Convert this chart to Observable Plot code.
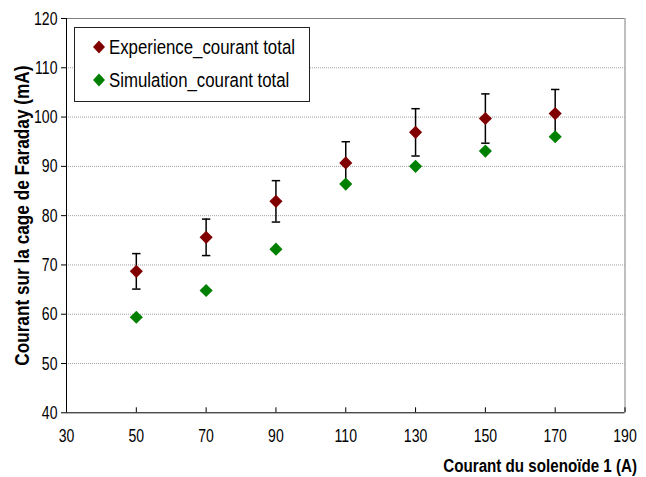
<!DOCTYPE html>
<html>
<head>
<meta charset="utf-8">
<script src="https://cdn.jsdelivr.net/npm/d3@7"></script>
<script src="https://cdn.jsdelivr.net/npm/@observablehq/plot@0.6"></script>
<style>
  html, body { margin: 0; padding: 0; background: #fff; }
  #wrap { position: relative; width: 646px; height: 477px; font-family: "Liberation Sans", Arial, sans-serif; }
  #legend { position: absolute; left: 74px; top: 27px; width: 234px; height: 73px; border: 1px solid #222; background: #fff; }
  .item { position: absolute; left: 17px; display: flex; align-items: center; font-size: 20.5px; color: #000; white-space: nowrap; }
  .item span { display: inline-block; transform: scaleX(0.82); transform-origin: left center; margin-left: 3px; }
</style>
</head>
<body>
<div id="wrap"></div>
<script>
const xTicks = [30, 50, 70, 90, 110, 130, 150, 170, 190];
const yTicks = [40, 50, 60, 70, 80, 90, 100, 110, 120];
const current = [50, 70, 90, 110, 130, 150, 170];
const expValues = [68.7, 75.6, 82.9, 90.7, 96.9, 99.7, 100.7];
const expErrors = [3.6, 3.7, 4.2, 4.3, 4.8, 5.0, 4.9];
const simValues = [59.4, 64.8, 73.2, 86.4, 90.0, 93.1, 96.0];
const seriesNames = ["Experience_courant total", "Simulation_courant total"];
const seriesColors = ["#800000", "#008000"];
const xLabel = "Courant du solenoïde 1 (A)";
const yLabel = "Courant sur la cage de Faraday (mA)";

const expData = current.map((x, i) => ({x, y: expValues[i], e: expErrors[i]}));
const simData = current.map((x, i) => ({x, y: simValues[i]}));

const capSymbol = { draw(ctx) { ctx.moveTo(-4.2, 0); ctx.lineTo(4.2, 0); } };
const font = '"Liberation Sans", Arial, sans-serif';

const chart = Plot.plot({
  width: 646,
  height: 477,
  marginLeft: 66,
  marginRight: 21.5,
  marginTop: 18,
  marginBottom: 64.7,
  style: { fontFamily: font, fontSize: "19px", color: "#000", background: "#fff" },
  x: { domain: [30, 190] },
  y: { domain: [40, 120] },
  marks: [
    Plot.ruleY(yTicks.slice(1, -1), { stroke: "#a0a0a0", strokeDasharray: "1,1", strokeWidth: 1 }),
    Plot.ruleY([yTicks[yTicks.length - 1]], { stroke: "#808080" }),
    Plot.ruleX([xTicks[xTicks.length - 1]], { stroke: "#808080" }),
    Plot.axisY({ ticks: yTicks, tickSize: 5, tickPadding: 4, label: null, fontSize: 19 }),
    Plot.axisX({ ticks: xTicks, tickSize: 0, tickPadding: 16, label: null, fontSize: 19 }),
    Plot.axisX({ ticks: xTicks, tickSize: -5, tickFormat: () => "", label: null }),
    Plot.ruleX([xTicks[0]], { stroke: "#000" }),
    Plot.ruleY([yTicks[0]], { stroke: "#000" }),
    Plot.ruleX(expData, { x: "x", y1: d => d.y - d.e, y2: d => d.y + d.e, stroke: "#000", strokeWidth: 1.5 }),
    Plot.dot(expData, { x: "x", y: d => d.y - d.e, symbol: capSymbol, stroke: "#000", strokeWidth: 1.5, fill: "none" }),
    Plot.dot(expData, { x: "x", y: d => d.y + d.e, symbol: capSymbol, stroke: "#000", strokeWidth: 1.5, fill: "none" }),
    Plot.dot(expData, { x: "x", y: "y", symbol: "diamond2", r: 5.9, fill: seriesColors[0], stroke: "none" }),
    Plot.dot(simData, { x: "x", y: "y", symbol: "diamond2", r: 5.9, fill: seriesColors[1], stroke: "none" }),
    Plot.text([yLabel], { frameAnchor: "left", dx: -44, dy: 0, rotate: -90, textAnchor: "middle", fontWeight: "bold", fontSize: 21 }),
    Plot.text([xLabel], { frameAnchor: "bottom-right", dx: 12, dy: 59, textAnchor: "end", fontWeight: "bold", fontSize: 18.5 })
  ]
});

// condense text horizontally (narrow font look), keeping anchors in place
d3.select(chart).selectAll("text").each(function() {
  const label = (this.parentNode && this.parentNode.getAttribute("aria-label")) || "";
  const s = label.includes("tick label") ? 0.74 : 0.82;
  const t = this.getAttribute("transform") || "";
  this.setAttribute("transform", `${t} scale(${s},1)`);
  const x = this.getAttribute("x");
  if (x != null && /^-?[\d.]+$/.test(x)) this.setAttribute("x", +x / s);
});

const wrap = document.getElementById("wrap");
wrap.appendChild(chart);

const legend = document.createElement("div");
legend.id = "legend";
seriesNames.forEach((name, i) => {
  const item = document.createElement("div");
  item.className = "item";
  item.style.top = (i === 0 ? 7 : 40) + "px";
  item.innerHTML = `<svg width="14" height="16" viewBox="-7 -8 14 16"><polygon points="0,-6.5 6,0 0,6.5 -6,0" fill="${seriesColors[i]}"/></svg><span>${name}</span>`;
  legend.appendChild(item);
});
wrap.appendChild(legend);
</script>
</body>
</html>
